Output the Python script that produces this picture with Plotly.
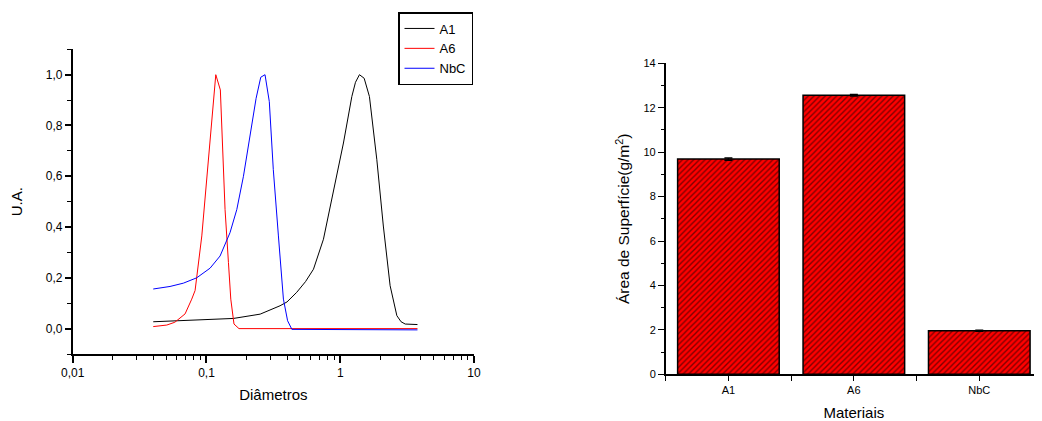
import plotly.graph_objects as go

# ---------------- data ----------------
a1_x = [0.04, 0.1, 0.159, 0.252, 0.317, 0.355, 0.40, 0.473, 0.55, 0.631, 0.749, 0.889,
        1.057, 1.221, 1.30, 1.392, 1.51, 1.653, 1.878, 2.10, 2.36, 2.65, 2.85, 3.06, 3.78]
a1_y = [0.027, 0.034, 0.04, 0.057, 0.077, 0.09, 0.105, 0.143, 0.185, 0.234, 0.352, 0.535,
        0.731, 0.914, 0.97, 1.0, 0.986, 0.914, 0.665, 0.404, 0.169, 0.051, 0.027, 0.018, 0.016]

a6_x = [0.04, 0.0505, 0.058, 0.0692, 0.0776, 0.0822, 0.0923, 0.1033, 0.1114, 0.1174,
        0.127, 0.1377, 0.146, 0.152, 0.1606, 0.175, 3.78]
a6_y = [0.008, 0.014, 0.025, 0.058, 0.116, 0.15, 0.365, 0.665, 0.888, 1.0,
        0.94, 0.469, 0.26, 0.116, 0.018, 0.0, 0.0]

nbc_x = [0.04, 0.0534, 0.0672, 0.0845, 0.1064, 0.1264, 0.150, 0.1686, 0.189, 0.212,
         0.235, 0.2546, 0.274, 0.295, 0.316, 0.345, 0.376, 0.404, 0.435, 3.78]
nbc_y = [0.156, 0.166, 0.179, 0.20, 0.238, 0.286, 0.378, 0.469, 0.60, 0.757,
         0.907, 0.99, 1.0, 0.894, 0.626, 0.365, 0.116, 0.031, -0.003, -0.005]

materiais = ["A1", "A6", "NbC"]
area = [9.69, 12.56, 1.96]
area_err = [0.05, 0.03, 0.02]

x_tickvals = [0.01, 0.1, 1, 10]
x_ticktext = ["0,01", "0,1", "1", "10"]
x_minor = [m * d for d in (0.01, 0.1, 1) for m in range(2, 10)]

# ---------------- layout helpers ----------------
OX, OY = 8, 8            # page body margin of the html page
W, H = 1042 - OX, 421 - OY
ML, MR, MT, MB = 32, 0, 4, 32
PW, PH = W - ML - MR, H - MT - MB


def fx(px):
    return (px - OX - ML) / PW


def fy(py):
    return (H - MB - (py - OY)) / PH


FONT = "Liberation Sans, Arial, sans-serif"

fig = go.Figure()
fig.add_trace(go.Scatter(x=a1_x, y=a1_y, mode="lines", name="A1",
                         line=dict(color="black", width=1), xaxis="x", yaxis="y"))
fig.add_trace(go.Scatter(x=a6_x, y=a6_y, mode="lines", name="A6",
                         line=dict(color="#ff0000", width=1), xaxis="x", yaxis="y"))
fig.add_trace(go.Scatter(x=nbc_x, y=nbc_y, mode="lines", name="NbC",
                         line=dict(color="#0000ff", width=1), xaxis="x", yaxis="y"))

bar_pos = list(range(len(materiais)))
fig.add_trace(go.Bar(x=bar_pos, y=area, width=0.81, showlegend=False,
                     marker=dict(color="#ff0000",
                                 line=dict(color="black", width=1.5),
                                 pattern=dict(shape="/", fgcolor="black", bgcolor="#ff0000",
                                              size=4, solidity=0.35)),
                     error_y=dict(type="data", array=area_err, color="black",
                                  thickness=1.5, width=4),
                     xaxis="x2", yaxis="y2"))

axis_common = dict(showline=True, linecolor="black", linewidth=1.5, showgrid=False,
                   zeroline=False, ticks="outside", tickcolor="black", automargin=False,
                   mirror=False)

fig.update_layout(
    width=W, height=H, margin=dict(l=ML, r=MR, t=MT, b=MB),
    paper_bgcolor="white", plot_bgcolor="white",
    separators=",.",
    font=dict(family=FONT, color="black"),
    xaxis=dict(**axis_common, type="log", range=[-2, 1], domain=[fx(72.7), fx(474)],
               anchor="y", tickmode="array", tickvals=x_tickvals, ticktext=x_ticktext,
               ticklen=7, tickwidth=1.5, tickfont=dict(family=FONT, size=12, color="black"),
               minor=dict(tickmode="array", tickvals=x_minor, ticks="outside",
                          ticklen=4, tickwidth=1.2, tickcolor="black"),
               title=dict(text="Diâmetros", font=dict(family=FONT, size=15), standoff=10)),
    yaxis=dict(**axis_common, range=[-0.1, 1.1], domain=[fy(354), fy(49.3)],
               anchor="x", tickmode="array", tickvals=[0, 0.2, 0.4, 0.6, 0.8, 1.0],
               tickformat=".1f", ticklen=6, tickwidth=1.5,
               tickfont=dict(family=FONT, size=12, color="black"),
               minor=dict(tickmode="array", tickvals=[-0.1, 0.1, 0.3, 0.5, 0.7, 0.9, 1.1],
                          ticks="outside", ticklen=4, tickwidth=1.2, tickcolor="black"),
               title=dict(text="U.A.", font=dict(family=FONT, size=15), standoff=22)),
    xaxis2=dict(**axis_common, range=[-0.5, 2.5], domain=[fx(665.7), 1.0], anchor="y2",
                tickmode="array", tickvals=bar_pos, ticktext=materiais,
                ticklen=5, tickwidth=1.2, tickfont=dict(family=FONT, size=11, color="black"),
                minor=dict(tickmode="array", tickvals=[-0.5, 0.5, 1.5, 2.5], ticks="outside",
                           ticklen=5, tickwidth=1.2, tickcolor="black"),
                title=dict(text="Materiais", font=dict(family=FONT, size=15), standoff=12)),
    yaxis2=dict(**axis_common, range=[0, 14], domain=[fy(374.3), fy(63.3)],
                anchor="x2", dtick=2, ticklen=6, tickwidth=1.2,
                tickfont=dict(family=FONT, size=11, color="black"),
                minor=dict(dtick=1, ticks="outside", ticklen=3, tickwidth=1.2,
                           tickcolor="black"),
                title=dict(text="Área de Superfície(g/m<sup>2</sup>)",
                           font=dict(family=FONT, size=15.5), standoff=10)),
    legend=dict(x=fx(398), y=fy(12), xanchor="left", yanchor="top",
                bordercolor="black", borderwidth=1.5, bgcolor="white",
                font=dict(family=FONT, size=13), tracegroupgap=0),
    showlegend=True,
)

fig.write_html("out.html")
